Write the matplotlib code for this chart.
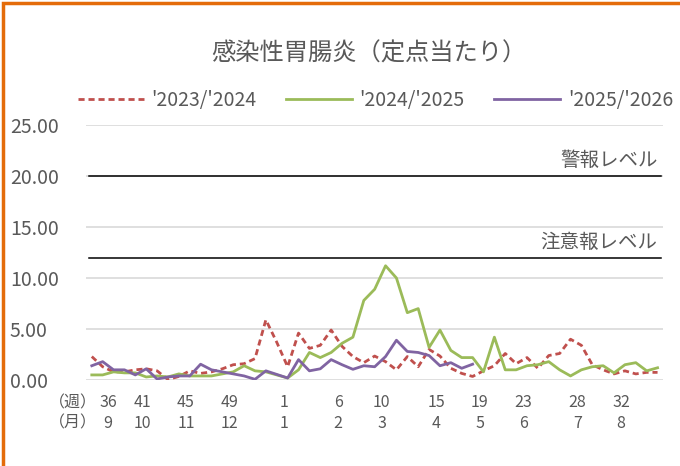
import numpy as np
import matplotlib.pyplot as plt
from matplotlib.patches import Rectangle

plt.rcParams['font.family'] = ['Noto Sans CJK JP', 'DejaVu Sans']

# ----- data (週36 .. 週53, 週1 .. 週35)
weeks = list(range(36, 54)) + list(range(1, 36))
s2324 = [2.3, 1.3, 0.8, 0.8, 1.0, 1.1, 0.9, 0.05, 0.35, 0.9, 0.65, 0.8, 1.1, 1.5, 1.6, 2.1, 5.9,
         3.7, 1.3, 4.6, 3.1, 3.4, 4.9, 3.3, 2.3, 1.7, 2.35,
         1.8, 1.0, 2.3, 1.3, 3.0, 2.35, 1.15, 0.65, 0.35,
         0.9, 1.4, 2.6, 1.6, 2.2, 1.15, 2.4, 2.6, 4.0,
         3.4, 1.5, 1.0, 0.6, 0.9, 0.6, 0.75, 0.75]
s2425 = [0.5, 0.5, 0.8, 0.7, 0.7, 0.3, 0.4, 0.3, 0.6,
         0.4, 0.4, 0.4, 0.6, 0.8, 1.4, 0.9, 0.8, 0.5,
         0.2, 1.0, 2.7, 2.2, 2.7, 3.6, 4.2, 7.8, 8.9, 11.2,
         10.0, 6.6, 7.0, 3.2, 4.9, 2.9, 2.2, 2.2,
         0.8, 4.2, 1.0, 1.0, 1.4, 1.5, 1.8, 1.0, 0.4,
         1.0, 1.3, 1.4, 0.7, 1.5, 1.7, 0.9, 1.2]
s2526 = [1.4, 1.8, 1.0, 1.0, 0.5, 1.1, 0.1, 0.3, 0.4,
         0.4, 1.55, 1.0, 0.8, 0.6, 0.4, 0.07, 0.9, 0.55,
         0.2, 2.0, 0.9, 1.1, 2.0, 1.5, 1.05, 1.4, 1.3,
         2.3, 3.9, 2.8, 2.7, 2.4, 1.4, 1.7, 1.15, 1.55]
keihou = 20.0
chuuihou = 12.0
label_weeks = [36, 41, 45, 49, 1, 6, 10, 15, 19, 23, 28, 32]
label_months = [9, 10, 11, 12, 1, 2, 3, 4, 5, 6, 7, 8]

gray = '#595959'
fig = plt.figure(figsize=(6.8, 4.66), dpi=100)
ax = fig.add_axes([0.127, 0.1845, 0.848, 0.5473])

x = np.arange(len(weeks))
ax.plot(x, s2324, color='#C0504D', lw=2.0, dashes=(2.2, 1.4), label="'2023/'2024", zorder=3)
ax.plot(x, s2425, color='#9BBB59', lw=2.0, label="'2024/'2025", zorder=3)
ax.plot(np.arange(len(s2526)), s2526, color='#8064A2', lw=2.0, label="'2025/'2026", zorder=4)

# 警報・注意報レベル
ax.plot([x[0] - 0.3, x[-1] + 0.3], [keihou] * 2, color='black', lw=1.1, zorder=2)
ax.plot([x[0] - 0.3, x[-1] + 0.3], [chuuihou] * 2, color='black', lw=1.1, zorder=2)
ax.text(x[-1], keihou + 0.5, '警報レベル', ha='right', va='bottom', fontsize=14, color=gray)
ax.text(x[-1], chuuihou + 0.5, '注意報レベル', ha='right', va='bottom', fontsize=14, color=gray)

ax.set_xlim(-0.5, len(weeks) - 0.5)
ax.set_ylim(0, 25)
ax.set_yticks(np.arange(0, 26, 5))
ax.set_yticklabels(['%.2f' % v for v in np.arange(0, 26, 5)])
ax.tick_params(axis='y', length=0, pad=55, labelsize=14, labelcolor=gray)
for t in ax.get_yticklabels():
    t.set_horizontalalignment('left')
ax.set_xticks([])
ax.grid(axis='y', color='#D9D9D9', lw=1.2, zorder=0)
ax.set_axisbelow(True)
for s in ax.spines.values():
    s.set_visible(False)

# 週・月ラベル
trans = ax.get_xaxis_transform()
for k, (w, m) in enumerate(zip(label_weeks, label_months)):
    xi = weeks.index(w) - 0.35
    if k == 0:
        xi = 1.5
    ax.text(xi, -0.09, str(w), transform=trans, ha='center', va='center', fontsize=11.5, color=gray)
    ax.text(xi, -0.17, str(m), transform=trans, ha='center', va='center', fontsize=11.5, color=gray)
ax.text(0.5, -0.09, '（週）', transform=trans, ha='right', va='center', fontsize=11.5, color=gray)
ax.text(0.5, -0.17, '（月）', transform=trans, ha='right', va='center', fontsize=11.5, color=gray)

fig.suptitle('感染性胃腸炎（定点当たり）', x=0.543, y=0.914, fontsize=17.5, color=gray)
fig.legend(loc='center', bbox_to_anchor=(0.552, 0.785), ncol=3, frameon=False,
           fontsize=14, handlelength=3.4, handletextpad=0.4, columnspacing=1.5,
           labelcolor=gray)

# 枠線
fig.patches.append(Rectangle((0.005, -0.1), 1.2, 1.094, transform=fig.transFigure,
                             fill=False, edgecolor='#E46C0A', lw=2.5))

fig.savefig('out.png', dpi=100)
